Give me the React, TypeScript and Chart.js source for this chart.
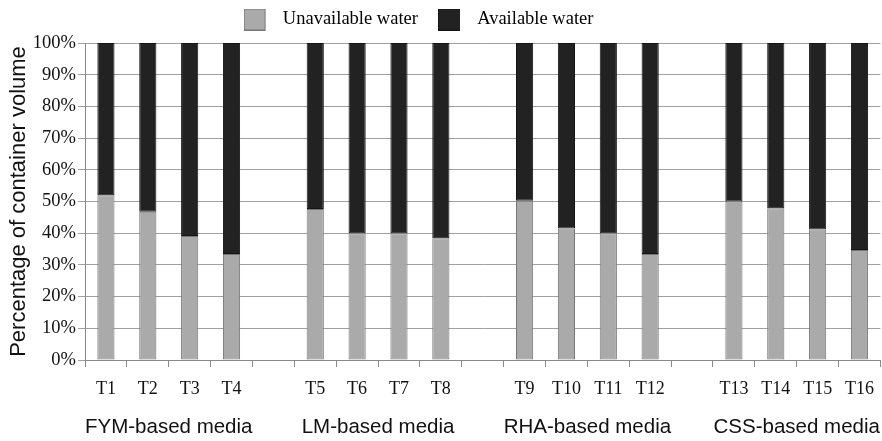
import React, { useEffect, useRef } from "react";
import { Chart, registerables } from "chart.js";

Chart.register(...registerables);

// ---- data ----
const categories = [
  "T1", "T2", "T3", "T4", "",
  "T5", "T6", "T7", "T8", "",
  "T9", "T10", "T11", "T12", "",
  "T13", "T14", "T15", "T16",
];
const unavailableWater = [
  52, 46.8, 39.1, 33.4, null,
  47.6, 40, 40, 38.4, null,
  50.2, 41.5, 40, 33.4, null,
  50, 47.9, 41.2, 34.7,
];
const availableWater = [
  48, 53.2, 60.9, 66.6, null,
  52.4, 60, 60, 61.6, null,
  49.8, 58.5, 60, 66.6, null,
  50, 52.1, 58.8, 65.3,
];
const seriesNames = ["Unavailable water", "Available water"];
const groupNames = ["FYM-based media", "LM-based media", "RHA-based media", "CSS-based media"];
const groupMembers = [
  ["T1", "T2", "T3", "T4"],
  ["T5", "T6", "T7", "T8"],
  ["T9", "T10", "T11", "T12"],
  ["T13", "T14", "T15", "T16"],
];
const yTicks = [0, 10, 20, 30, 40, 50, 60, 70, 80, 90, 100];

// ---- style ----
const SERIF = '"Liberation Serif", "Times New Roman", serif';
const SANS = '"Liberation Sans", Arial, sans-serif';
const GREY = "#aaaaaa";
const GREY_BORDER = "#777777";
const DARK = "#222222";
const DARK_BORDER = "#151515";

function makeSwatch(fill: string, stroke: string): HTMLCanvasElement {
  const c = document.createElement("canvas");
  c.width = 30;
  c.height = 22;
  const g = c.getContext("2d")!;
  g.fillStyle = fill;
  g.fillRect(0, 0, 22, 22);
  g.strokeStyle = stroke;
  g.lineWidth = 1;
  g.strokeRect(0.5, 0.5, 21, 21);
  return c;
}

const legendGapPlugin = {
  id: "legendGap",
  beforeLayout(chart: any) {
    const lg: any = chart.legend;
    if (lg && !lg.__gapPatched) {
      const orig = lg.fit.bind(lg);
      lg.fit = function () {
        orig();
        this.height += 4.25;
      };
      lg.__gapPatched = true;
    }
  },
};

const groupLabelPlugin = {
  id: "groupLabels",
  afterDraw(chart: any) {
    const xs = chart.scales.x;
    const ctx = chart.ctx;
    ctx.save();
    ctx.font = `20.5px ${SANS}`;
    ctx.fillStyle = "#111111";
    ctx.textAlign = "center";
    ctx.textBaseline = "middle";
    groupNames.forEach((name, gi) => {
      const members = groupMembers[gi];
      const first = categories.indexOf(members[0]);
      const last = categories.indexOf(members[members.length - 1]);
      const cx = (xs.getPixelForValue(first) + xs.getPixelForValue(last)) / 2;
      ctx.fillText(name, cx, chart.chartArea.bottom + 67);
    });
    ctx.restore();
  },
};

export default function App() {
  const ref = useRef<HTMLCanvasElement | null>(null);

  useEffect(() => {
    if (!ref.current) return;
    const swatches = [makeSwatch(GREY, GREY_BORDER), makeSwatch(DARK, DARK_BORDER)];
    const chart = new Chart(ref.current, {
      type: "bar",
      data: {
        labels: categories,
        datasets: [
          {
            label: seriesNames[0],
            data: unavailableWater as any,
            backgroundColor: GREY,
            borderColor: GREY_BORDER,
            borderWidth: 1,
            borderSkipped: false,
            barPercentage: 0.41,
            categoryPercentage: 1,
          },
          {
            label: seriesNames[1],
            data: availableWater as any,
            backgroundColor: DARK,
            borderColor: DARK_BORDER,
            borderWidth: 1,
            borderSkipped: false,
            barPercentage: 0.41,
            categoryPercentage: 1,
          },
        ],
      },
      options: {
        responsive: false,
        animation: false,
        layout: { padding: { top: -9.75, left: 0, right: 0, bottom: 0 } },
        plugins: {
          tooltip: { enabled: false },
          legend: {
            position: "top",
            labels: {
              usePointStyle: true,
              pointStyleWidth: 30,
              padding: 20,
              color: "#111111",
              font: { family: SERIF, size: 18.5 },
              generateLabels: (ch: any) =>
                ch.data.datasets.map((ds: any, i: number) => ({
                  text: ds.label,
                  pointStyle: swatches[i],
                  fillStyle: ds.backgroundColor,
                  strokeStyle: ds.borderColor,
                  lineWidth: 0,
                  hidden: false,
                  datasetIndex: i,
                })),
            },
          },
        },
        scales: {
          x: {
            stacked: true,
            offset: true,
            afterFit: (s: any) => {
              s.height = 81;
            },
            grid: {
              display: true,
              drawOnChartArea: false,
              drawTicks: true,
              tickLength: 7,
              color: "#888888",
              offset: true,
            },
            border: { display: true, color: "#888888", width: 1 },
            ticks: {
              color: "#111111",
              font: { family: SERIF, size: 18 },
              padding: 11,
              maxRotation: 0,
              autoSkip: false,
            },
          },
          y: {
            stacked: true,
            min: 0,
            max: 100,
            afterFit: (s: any) => {
              s.width = 133;
            },
            afterBuildTicks: (s: any) => {
              s.ticks = yTicks.map((v) => ({ value: v }));
            },
            grid: {
              color: "#a0a0a0",
              lineWidth: 1,
              tickLength: 7,
              drawTicks: true,
            },
            border: { display: true, color: "#888888", width: 1 },
            ticks: {
              color: "#111111",
              font: { family: SERIF, size: 18.5 },
              padding: 2,
              callback: (v: any) => `${v}%`,
            },
            title: {
              display: true,
              text: "Percentage of container volume",
              color: "#111111",
              font: { family: SANS, size: 22 },
              padding: { top: 53.8, bottom: 0 },
            },
          },
        },
      },
      plugins: [legendGapPlugin, groupLabelPlugin],
    } as any);
    return () => chart.destroy();
  }, []);

  return (
    <div
      style={{
        position: "absolute",
        left: 0,
        top: 0,
        width: 882,
        height: 441,
        overflow: "hidden",
        background: "#ffffff",
      }}
    >
      <canvas
        ref={ref}
        width={933}
        height={441}
        style={{ position: "absolute", left: -48, top: 0, width: 933, height: 441 }}
      />
    </div>
  );
}
